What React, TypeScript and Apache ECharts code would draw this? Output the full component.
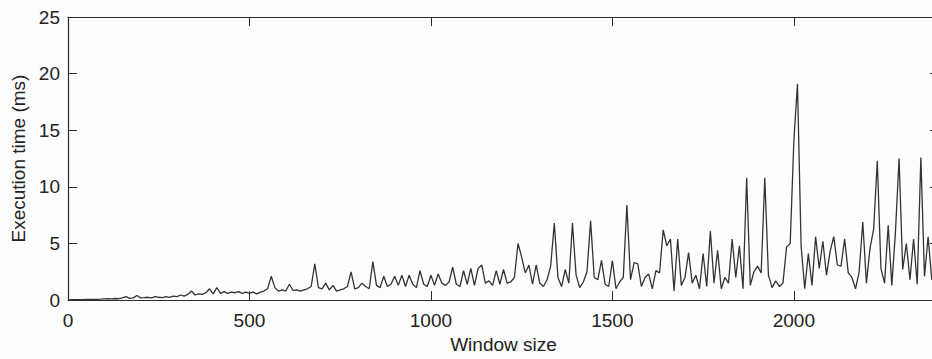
import React, { useEffect, useRef } from "react";
import * as echarts from "echarts";

// Sampling step of the window size (x axis), in window-size units
const windowStep = 10;

// Execution time (ms), window sizes 0, 10, 20, ... 2400
const execTime: number[] = [
  // 0-90
  0.02, 0.03, 0.04, 0.05, 0.05, 0.06, 0.06, 0.07, 0.07, 0.08,
  // 100-190
  0.1, 0.12, 0.1, 0.14, 0.12, 0.2, 0.3, 0.15, 0.2, 0.4,
  // 200-290
  0.2, 0.22, 0.25, 0.2, 0.3, 0.25, 0.22, 0.3, 0.25, 0.35,
  // 300-390
  0.3, 0.45, 0.35, 0.5, 0.8, 0.45, 0.55, 0.5, 0.65, 1.0,
  // 400-490
  0.55, 1.1, 0.6, 0.75, 0.6, 0.7, 0.65, 0.75, 0.6, 0.7,
  // 500-590
  0.6, 0.7, 0.55, 0.7, 0.8, 1.0, 2.1, 1.1, 0.8, 0.9,
  // 600-690
  0.8, 1.4, 0.85, 0.9, 0.8, 0.9, 1.0, 1.2, 3.2, 1.1,
  // 700-790
  1.0, 1.5, 0.9, 1.3, 0.8, 0.9, 1.0, 1.2, 2.5, 1.0,
  // 800-890
  1.1, 1.5, 1.2, 1.0, 3.4, 1.3, 1.1, 2.1, 1.2, 1.4,
  // 900-990
  2.1, 1.3, 2.2, 1.2, 2.2, 1.4, 1.1, 2.6, 1.4, 1.2,
  // 1000-1090
  2.2, 1.3, 2.3, 1.5, 1.3, 1.6, 2.9, 1.4, 1.2, 2.6,
  // 1100-1190
  1.4, 2.8, 1.3, 2.8, 3.1, 1.5, 1.7, 1.3, 2.6, 1.4,
  // 1200-1290
  2.7, 1.5, 1.6, 2.0, 5.0, 3.8, 2.4, 3.1, 1.4, 3.1,
  // 1300-1390
  1.5, 1.2, 1.8, 3.0, 6.8, 2.0, 1.2, 2.7, 1.5, 6.8,
  // 1400-1490
  2.2, 1.1, 1.6, 2.5, 7.0, 2.0, 1.8, 3.5, 1.4, 1.2,
  // 1500-1590
  3.5, 1.0, 1.6, 2.0, 8.4, 1.8, 3.3, 3.2, 1.2, 2.0,
  // 1600-1690
  2.3, 1.0, 2.6, 2.4, 6.2, 4.8, 5.4, 0.8, 5.4, 1.3,
  // 1700-1790
  2.0, 4.2, 1.5, 2.2, 1.0, 4.1, 1.2, 6.1, 1.5, 4.4,
  // 1800-1890
  1.0, 2.0, 1.5, 5.4, 2.0, 4.8, 1.0, 10.8, 1.3, 2.5,
  // 1900-1990
  3.0, 2.4, 10.8, 2.2, 1.1, 1.7, 1.2, 1.5, 4.7, 5.0,
  // 2000-2090
  14.0, 19.1, 4.8, 1.0, 4.1, 1.3, 5.6, 2.8, 5.2, 2.2,
  // 2100-2190
  4.3, 5.6, 3.1, 3.0, 5.4, 2.4, 2.0, 1.0, 2.5, 6.9,
  // 2200-2290
  1.5, 4.6, 6.3, 12.3, 2.8, 1.5, 6.6, 1.3, 6.0, 12.5,
  // 2300-2390
  2.7, 5.0, 1.8, 5.4, 1.4, 12.6, 2.1, 5.6, 1.8, 3.0,
  // 2400
  2.5,
];

const xTickLabels = ["0", "500", "1000", "1500", "2000"];
const yTickLabels = ["0", "5", "10", "15", "20", "25"];

const xMax = 2400;
const yMax = 25;

export default function App() {
  const ref = useRef<HTMLDivElement>(null);

  useEffect(() => {
    if (!ref.current) return;
    const chart = echarts.init(ref.current, undefined, { renderer: "svg" });
    const font = "'Liberation Sans', Arial, Helvetica, sans-serif";
    const axisColor = "#2a2a2a";
    const textColor = "#222";
    const data = execTime.map((v, i) => [i * windowStep, v]);

    const baseX = {
      type: "value" as const,
      min: 0,
      max: xMax,
      interval: 500,
      splitLine: { show: false },
      axisLine: { show: true, onZero: false, lineStyle: { color: axisColor, width: 1.2 } },
      axisTick: { show: true, inside: true, length: 9, lineStyle: { color: axisColor } },
    };
    const baseY = {
      type: "value" as const,
      min: 0,
      max: yMax,
      interval: 5,
      splitLine: { show: false },
      axisLine: { show: true, onZero: false, lineStyle: { color: axisColor, width: 1.2 } },
      axisTick: { show: true, inside: true, length: 9, lineStyle: { color: axisColor } },
    };

    chart.setOption({
      animation: false,
      backgroundColor: "#fdfdfd",
      textStyle: { fontFamily: font },
      grid: { left: 68, top: 17, right: 11, bottom: 57, containLabel: false },
      xAxis: [
        {
          ...baseX,
          position: "bottom",
          name: "Window size",
          nameLocation: "middle",
          nameGap: 34,
          nameTextStyle: { fontSize: 19, color: textColor, fontFamily: font },
          axisLabel: {
            show: true,
            margin: 11,
            fontSize: 19,
            color: textColor,
            fontFamily: font,
            showMaxLabel: false,
            formatter: (v: number) => {
              const s = String(v);
              return xTickLabels.indexOf(s) >= 0 ? s : "";
            },
          },
        },
        {
          ...baseX,
          position: "top",
          axisLabel: { show: false },
        },
      ],
      yAxis: [
        {
          ...baseY,
          position: "left",
          name: "Execution time (ms)",
          nameLocation: "middle",
          nameGap: 39,
          nameTextStyle: { fontSize: 19, color: textColor, fontFamily: font },
          axisLabel: {
            show: true,
            margin: 8,
            fontSize: 19,
            color: textColor,
            fontFamily: font,
            formatter: (v: number) => {
              const s = String(v);
              return yTickLabels.indexOf(s) >= 0 ? s : "";
            },
          },
        },
        {
          ...baseY,
          position: "right",
          axisLabel: { show: false },
        },
      ],
      series: [
        {
          type: "line",
          xAxisIndex: 0,
          yAxisIndex: 0,
          data,
          showSymbol: false,
          symbol: "none",
          lineStyle: { color: "#333333", width: 1.3 },
          clip: true,
        },
      ],
    });

    return () => chart.dispose();
  }, []);

  return (
    <div
      style={{
        position: "fixed",
        left: 0,
        top: 0,
        width: 932,
        height: 359,
        overflow: "hidden",
        background: "#fdfdfd",
      }}
    >
      <div ref={ref} style={{ width: 950, height: 359 }} />
    </div>
  );
}
